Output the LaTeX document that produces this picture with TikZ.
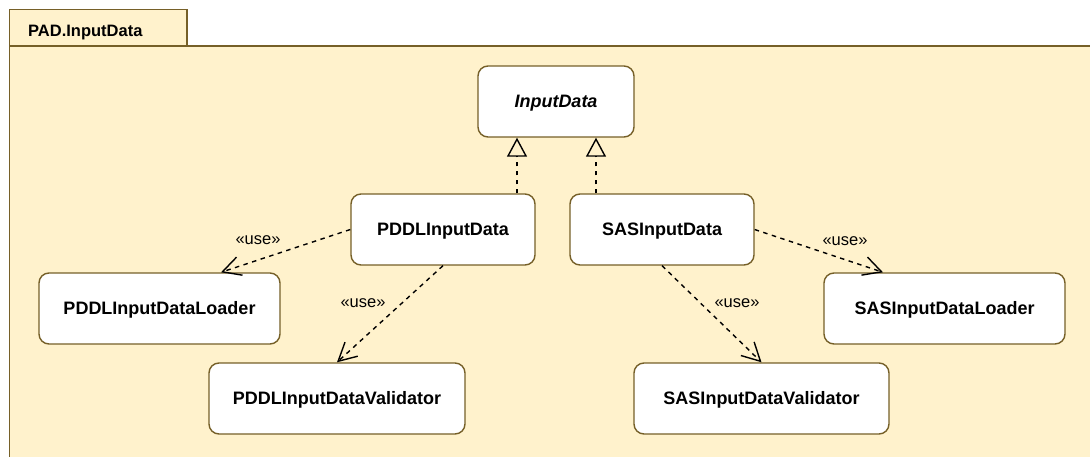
\documentclass[tikz,border=0pt]{standalone}
\usepackage{fontspec}
\setmainfont{Liberation Sans}
\usetikzlibrary{arrows.meta}
\definecolor{pkgfill}{HTML}{FFF2CC}
\definecolor{pkgline}{RGB}{118,96,40}
\tikzset{
  cls/.style={rectangle, rounded corners=10pt, draw=pkgline, fill=white, line width=1.4pt,
    minimum height=71pt, inner sep=0pt, text height=12.9pt, text depth=0pt,
    font=\bfseries\fontsize{18}{21}\selectfont},
  realize/.style={line width=1.4pt, dash pattern=on 4.5pt off 4.5pt,
    -{Triangle[open, length=19pt, width=20pt, line width=1.4pt]}},
  usedep/.style={line width=1.4pt, dash pattern=on 4.5pt off 4.5pt,
    -{Straight Barb[length=18pt, width=19pt, line width=1.4pt]}},
  uselbl/.style={font=\fontsize{16.5}{19}\selectfont, inner sep=0pt},
}
\begin{document}
\begin{tikzpicture}[x=1pt, y=-1pt]
\useasboundingbox (0,0) rectangle (1090,457);
% package frame
\draw[fill=pkgfill, draw=pkgline, line width=1.4pt] (9.5,46) rectangle (1100,470);
\draw[fill=pkgfill, draw=pkgline, line width=1.4pt] (9.5,9.5) rectangle (187,46);
\node[anchor=base west, inner sep=0pt, font=\bfseries\fontsize{16.5}{19}\selectfont] (pkg) at (28,36.5) {PAD.InputData};
% classes
\node[cls, minimum width=156pt, font=\bfseries\itshape\fontsize{18}{21}\selectfont] (inputdata) at (556,101.5) {InputData};
\node[cls, minimum width=184pt] (pddl) at (443,229.5) {PDDLInputData};
\node[cls, minimum width=184pt] (sas) at (662,229.5) {SASInputData};
\node[cls, minimum width=241pt] (pddlloader) at (159.5,308.5) {PDDLInputDataLoader};
\node[cls, minimum width=256pt] (pddlval) at (337,398.5) {PDDLInputDataValidator};
\node[cls, minimum width=241pt] (sasloader) at (944.5,308.5) {SASInputDataLoader};
\node[cls, minimum width=255pt] (sasval) at (761.5,398.5) {SASInputDataValidator};
% realizations
\draw[realize] ([xshift=74pt]pddl.north) -- ([xshift=-39pt]inputdata.south);
\draw[realize] ([xshift=-66pt]sas.north) -- ([xshift=40pt]inputdata.south);
% use dependencies
\draw[usedep] (pddl.west) -- ([xshift=61.5pt]pddlloader.north);
\draw[usedep] (pddl.south) -- (pddlval.north);
\draw[usedep] (sas.east) -- ([xshift=-61.5pt]sasloader.north);
\draw[usedep] (sas.south) -- (sasval.north);
\node[uselbl] (u1) at (258,240) {«use»};
\node[uselbl] (u2) at (363,303) {«use»};
\node[uselbl] (u3) at (845,241) {«use»};
\node[uselbl] (u4) at (737,303) {«use»};
\end{tikzpicture}
\end{document}
